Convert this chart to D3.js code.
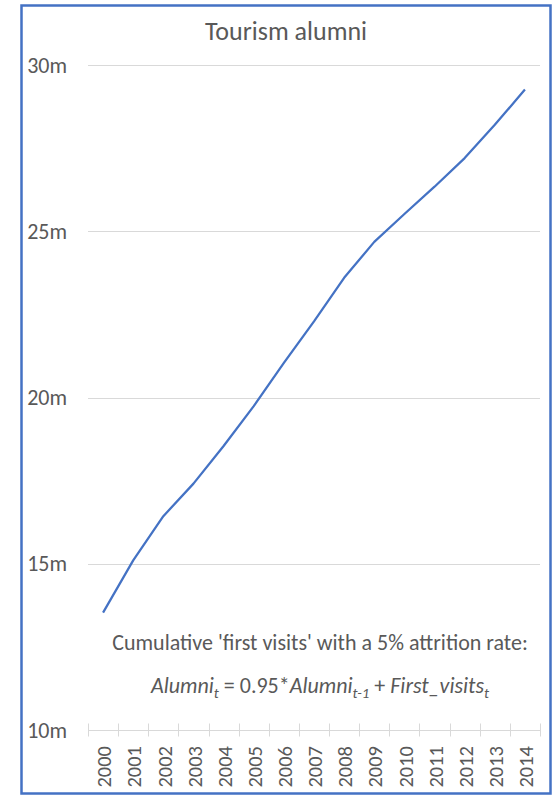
<!DOCTYPE html>
<html>
<head>
<meta charset="utf-8">
<script src="https://cdn.jsdelivr.net/npm/d3@7"></script>
<style>
  html, body { margin: 0; padding: 0; background: #ffffff; }
  svg { display: block; }
  text { font-family: Carlito, Calibri, Lato, "Noto Sans", sans-serif; fill: #595959; }
</style>
</head>
<body>
<svg id="chart" width="556" height="796"></svg>
<script>
// Tourism alumni, in millions, by year
const years = ["2000","2001","2002","2003","2004","2005","2006","2007",
               "2008","2009","2010","2011","2012","2013","2014"];
const alumni = [13.53, 15.10, 16.43, 17.41, 18.54, 19.74, 21.04, 22.29,
                23.60, 24.68, 25.52, 26.34, 27.20, 28.20, 29.26];
const yTicks = [10, 15, 20, 25, 30];
const yTickLabels = ["10m", "15m", "20m", "25m", "30m"];
const title = "Tourism alumni";
const noteLine = "Cumulative 'first visits' with a 5% attrition rate:";

const svg = d3.select("#chart");
const plot = { left: 88, right: 540, top: 65, bottom: 730 };

const x = d3.scaleBand().domain(years).range([plot.left, plot.right]);
const y = d3.scaleLinear().domain([10, 30]).range([plot.bottom, plot.top]);

// chart frame
svg.append("rect")
  .attr("x", 21.5).attr("y", 5.5)
  .attr("width", 529).attr("height", 788)
  .attr("fill", "#ffffff")
  .attr("stroke", "#4472C4").attr("stroke-width", 2.5);

// title
svg.append("text")
  .attr("x", 286).attr("y", 40)
  .attr("text-anchor", "middle")
  .attr("font-size", 26)
  .text(title);

// horizontal gridlines (baseline is drawn by the category axis)
svg.append("g")
  .selectAll("line")
  .data(yTicks.filter(d => d !== 10))
  .join("line")
  .attr("x1", plot.left).attr("x2", plot.right)
  .attr("y1", d => Math.round(y(d)) + 0.5).attr("y2", d => Math.round(y(d)) + 0.5)
  .attr("stroke", "#d9d9d9").attr("stroke-width", 1);

// value labels
svg.append("g")
  .selectAll("text")
  .data(yTicks)
  .join("text")
  .attr("x", 67)
  .attr("y", d => y(d))
  .attr("dy", "0.35em")
  .attr("text-anchor", "end")
  .attr("font-size", 22)
  .text((d, i) => yTickLabels[i]);

// category axis with cross tick marks between categories
const axisY = plot.bottom + 0.5;
const axisG = svg.append("g");
axisG.append("line")
  .attr("x1", plot.left).attr("x2", plot.right)
  .attr("y1", axisY).attr("y2", axisY)
  .attr("stroke", "#d9d9d9").attr("stroke-width", 1);
const boundaries = years.map(d => x(d)).concat([x(years[years.length - 1]) + x.bandwidth()]);
axisG.selectAll("line.tick")
  .data(boundaries)
  .join("line")
  .attr("class", "tick")
  .attr("x1", d => Math.round(d) + 0.5).attr("x2", d => Math.round(d) + 0.5)
  .attr("y1", axisY - 7).attr("y2", axisY + 6)
  .attr("stroke", "#d9d9d9").attr("stroke-width", 1);

axisG.selectAll("text")
  .data(years)
  .join("text")
  .attr("transform", d => `translate(${x(d) + x.bandwidth() / 2 + 1},746) rotate(-90)`)
  .attr("text-anchor", "end")
  .attr("dy", "0.35em")
  .attr("font-size", 20.5)
  .text(d => d);

// series line
const line = d3.line()
  .x((d, i) => x(years[i]) + x.bandwidth() / 2)
  .y(d => y(d));
svg.append("path")
  .datum(alumni)
  .attr("d", line)
  .attr("fill", "none")
  .attr("stroke", "#4472C4")
  .attr("stroke-width", 2.25)
  .attr("stroke-linejoin", "round");

// annotation
svg.append("text")
  .attr("x", 320).attr("y", 650)
  .attr("text-anchor", "middle")
  .attr("font-size", 22)
  .text(noteLine);

const formula = svg.append("text")
  .attr("x", 320).attr("y", 693)
  .attr("text-anchor", "middle")
  .attr("font-size", 22);
const parts = [
  { t: "Alumni", it: true },
  { t: "t", it: true, sub: true },
  { t: " = 0.95*", it: false },
  { t: "Alumni", it: true },
  { t: "t-1", it: true, sub: true },
  { t: " + ", it: false },
  { t: "First_visits", it: true },
  { t: "t", it: true, sub: true }
];
let lowered = false;
parts.forEach(p => {
  const ts = formula.append("tspan")
    .attr("font-style", p.it ? "italic" : "normal")
    .text(p.t);
  if (p.sub) {
    ts.attr("font-size", 15).attr("dy", lowered ? 0 : 5);
    lowered = true;
  } else if (lowered) {
    ts.attr("dy", -5);
    lowered = false;
  }
});
</script>
</body>
</html>
